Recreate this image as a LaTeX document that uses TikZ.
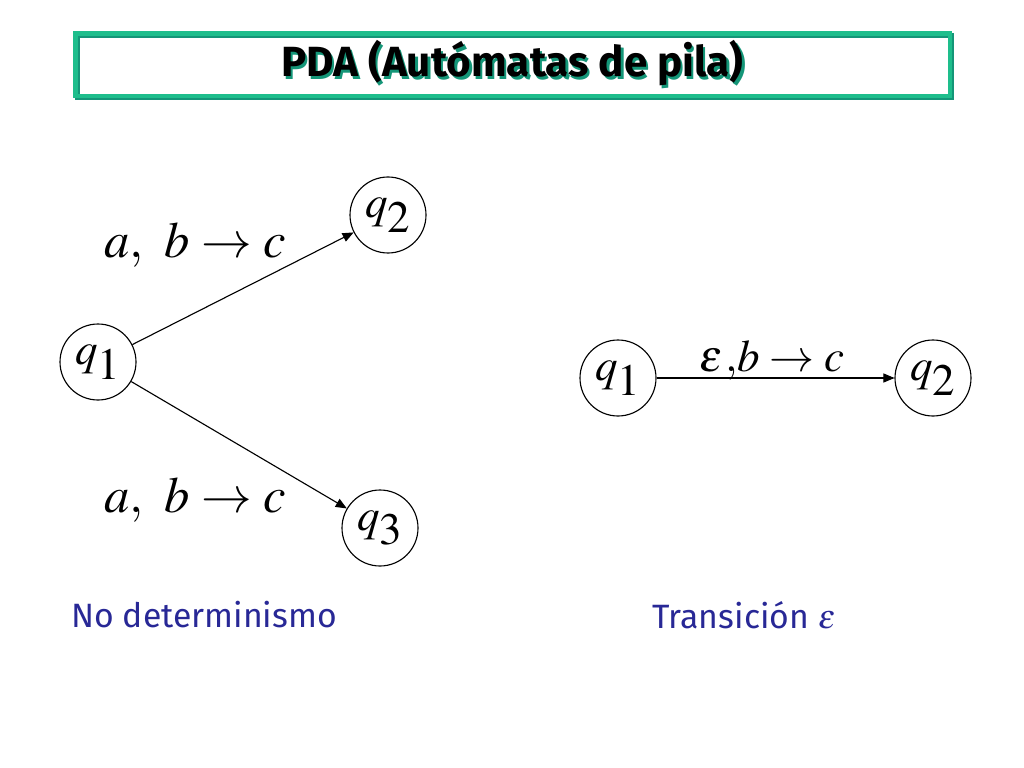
\documentclass[tikz,border=0pt]{standalone}
\usepackage{mathptmx}
\usepackage[no-math]{fontspec}
\setsansfont{Fira Sans}
\usetikzlibrary{shapes.geometric, arrows}
\definecolor{titlegreen}{RGB}{30,190,140}
\definecolor{titleshade}{RGB}{20,150,120}
\definecolor{labelblue}{RGB}{40,40,150}
\tikzstyle{state} = [circle, draw, line width=0.8pt, minimum size=1.9cm, inner sep=0pt, font=\fontsize{32}{38}\selectfont]
\tikzstyle{trans} = [font=\fontsize{36}{42}\selectfont]
\tikzstyle{caption} = [text=labelblue, font=\sffamily\fontsize{24}{28}\selectfont]
\tikzstyle{titletext} = [font=\sffamily\bfseries\fontsize{30}{36}\selectfont]
\tikzstyle{arrow} = [line width=0.8pt,->,>=triangle 45]
\newcommand{\st}[1]{$q_{\textstyle #1}$}
\newcommand{\shadowed}[1]{\rlap{\kern1.7pt\raisebox{-1.7pt}{\textcolor{titleshade}{#1}}}#1}

\begin{document}
\begin{tikzpicture}
            \useasboundingbox (0,0) rectangle (25.6,-19.2);
            % title
            \draw [titleshade, line width=3.5pt] (1.93,-0.88) rectangle (23.80,-2.45);
            \draw [titlegreen, line width=3.5pt] (1.88,-0.83) rectangle (23.75,-2.40);
            \node [titletext] at (12.81,-1.61) (title) {\shadowed{PDA (Autómatas de pila)}};

            % no determinismo
            \node [state] at (2.45,-9.05) (lq1) {\st{1}};
            \node [state] at (9.70,-5.375) (lq2) {\st{2}};
            \node [state] at (9.50,-13.20) (lq3) {\st{3}};
            \node [trans] at (4.875,-6.125) (lab1) {$a,\ b\rightarrow c$};
            \node [trans] at (4.875,-12.50) (lab2) {$a,\ b\rightarrow c$};
            \draw [arrow] (lq1) -- (lq2);
            \draw [arrow] (lq1) -- (lq3);
            \node [caption] at (5.1,-15.375) (nodet) {No determinismo};

            % transicion epsilon
            \node [state] at (15.45,-9.45) (rq1) {\st{1}};
            \node [state] at (23.325,-9.45) (rq2) {\st{2}};
            \draw [arrow] (rq1) -- (rq2);
            \node [trans, font=\fontsize{32}{38}\selectfont] at (19.3,-9.0) (lab3) {$\varepsilon\mkern1mu{,}b\rightarrow c$};
            \node [caption] at (18.6,-15.375) (trEps) {Transición $\varepsilon$};
            \end{tikzpicture}
\end{document}
